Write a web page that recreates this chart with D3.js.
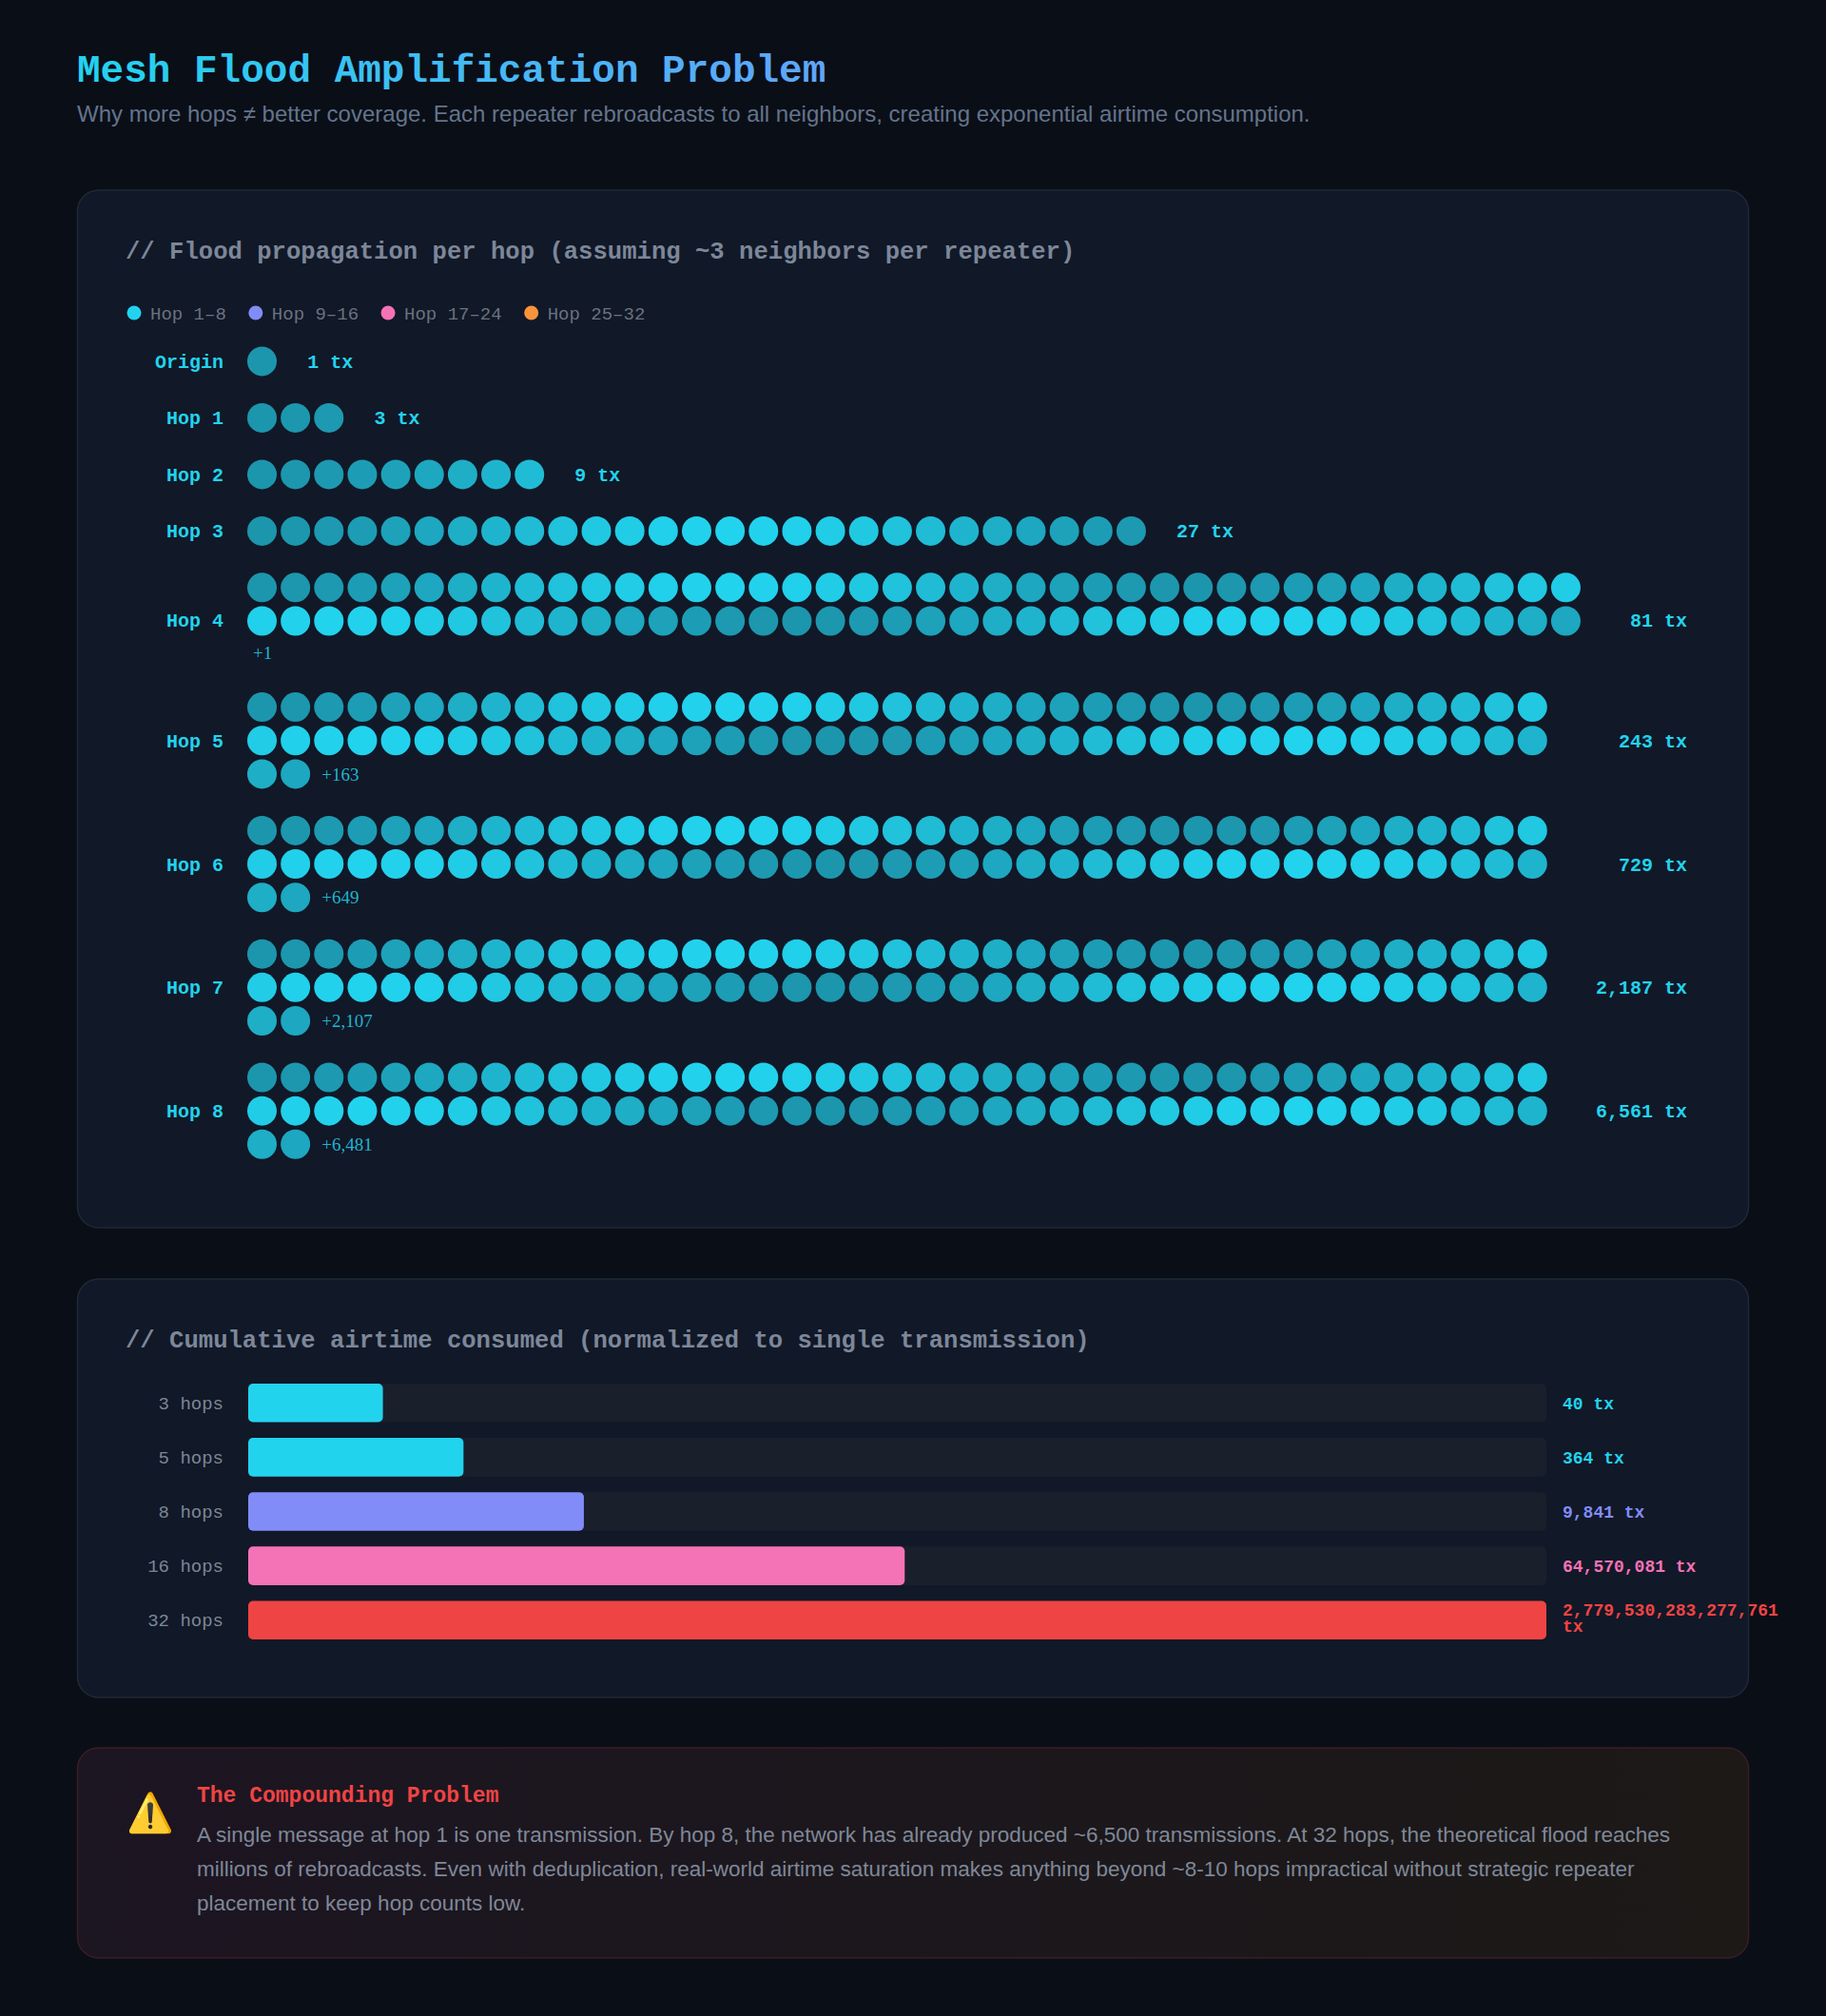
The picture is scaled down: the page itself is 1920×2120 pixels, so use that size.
<!DOCTYPE html>
<html>
<head>
<meta charset="utf-8">
<script src="https://cdn.jsdelivr.net/npm/d3@7"></script>
<style>
  body { margin: 0; background: #0a0e17; }
  svg { display: block; }
</style>
</head>
<body>
<svg id="chart" width="1920" height="2120"></svg>
<script>
// flood rows
var hopLabels = ["Origin", "Hop 1", "Hop 2", "Hop 3", "Hop 4", "Hop 5", "Hop 6", "Hop 7", "Hop 8"];
var hopCounts = [1, 3, 9, 27, 81, 243, 729, 2187, 6561];
var maxDots = 80;

// legend
var legendLabels = ["Hop 1\u20138", "Hop 9\u201316", "Hop 17\u201324", "Hop 25\u201332"];
var legendColors = ["#22d3ee", "#818cf8", "#f472b6", "#fb923c"];

// cumulative airtime
var cumLabels = ["3 hops", "5 hops", "8 hops", "16 hops", "32 hops"];
var cumValues = [40, 364, 9841, 64570081, 2779530283277761];
var cumText = ["40", "364", "9,841", "64,570,081", "2,779,530,283,277,761"];
var cumColors = ["#22d3ee", "#22d3ee", "#818cf8", "#f472b6", "#ef4444"];

var noteLines = [
  "A single message at hop 1 is one transmission. By hop 8, the network has already produced ~6,500 transmissions. At 32 hops, the theoretical flood reaches",
  "millions of rebroadcasts. Even with deduplication, real-world airtime saturation makes anything beyond ~8-10 hops impractical without strategic repeater",
  "placement to keep hop counts low."
];

var mono = "'Liberation Mono', 'DejaVu Sans Mono', monospace";
var sans = "'Liberation Sans', Arial, sans-serif";

var svg = d3.select("#chart");
var defs = svg.append("defs");

var tg = defs.append("linearGradient").attr("id", "titleGrad");
tg.append("stop").attr("offset", "0%").attr("stop-color", "#22d3ee");
tg.append("stop").attr("offset", "100%").attr("stop-color", "#60a5fa");

var wg = defs.append("linearGradient").attr("id", "warnGrad");
wg.append("stop").attr("offset", "0%").attr("stop-color", "#1c1522");
wg.append("stop").attr("offset", "100%").attr("stop-color", "#1c1917");

svg.append("rect").attr("width", 1920).attr("height", 2120).attr("fill", "#0a0e17");

svg.append("text").attr("x", 81).attr("y", 86)
  .style("font-family", mono).style("font-weight", "bold").style("font-size", "41px")
  .attr("fill", "url(#titleGrad)")
  .text("Mesh Flood Amplification Problem");

svg.append("text").attr("x", 81).attr("y", 128)
  .style("font-family", sans).style("font-size", "24px").attr("fill", "#64748b")
  .text("Why more hops \u2260 better coverage. Each repeater rebroadcasts to all neighbors, creating exponential airtime consumption.");

function card(y, h, fill, stroke) {
  svg.append("rect").attr("x", 81.5).attr("y", y).attr("width", 1757).attr("height", h)
    .attr("rx", 22).attr("fill", fill).attr("stroke", stroke).attr("stroke-width", 1.5);
}

function cardTitle(y, t) {
  svg.append("text").attr("x", 132).attr("y", y)
    .style("font-family", mono).style("font-weight", "bold").style("font-size", "25.6px")
    .attr("fill", "#7c8799").text(t);
}

/******************** card 1: flood propagation ********************/
card(200, 1091, "#111827", "#1f2937");
cardTitle(272, "// Flood propagation per hop (assuming ~3 neighbors per repeater)");

var legend = svg.append("g");
var lx = 141;
legendLabels.forEach(function (l, i) {
  var g = legend.append("g").attr("transform", "translate(" + lx + ",329)");
  g.append("circle").attr("r", 7.5).attr("fill", legendColors[i]);
  var t = g.append("text").attr("x", 17).attr("dy", "0.35em")
    .style("font-family", mono).style("font-size", "19px").attr("fill", "#6b7280").text(l);
  lx += 17 + t.node().getComputedTextLength() + 31;
});

var S = 1.352;
var dotLeft = 260, pitch = 26 * S, rad = 15.5, rightEdge = 1774;
var fmt = d3.format(",");
var opac = d3.scaleLinear().domain([-1, 1]).range([1, 0.68]);

var y = 281 * S;
var rows = svg.append("g");
hopCounts.forEach(function (n, h) {
  var g = rows.append("g");
  var countTxt = g.append("text")
    .style("font-family", mono).style("font-weight", "bold").style("font-size", "20px")
    .attr("fill", "#22d3ee").attr("dy", "0.35em").text(fmt(n) + " tx");
  var cw = countTxt.node().getComputedTextLength();
  var avail = rightEdge - cw - 46 - dotLeft;
  var cols = Math.floor((avail + 4) / pitch);
  var shown = Math.min(n, maxDots);
  var dots = d3.range(shown);
  var lines = Math.ceil(shown / cols);
  var extra = n - shown;
  var lastCount = shown - (lines - 1) * cols;
  var extraOwnLine = extra > 0 && lastCount >= cols;
  var lineY = function (r) { return y + r * pitch; };

  g.selectAll("circle").data(dots).enter().append("circle")
    .attr("cx", function (i) { return dotLeft + rad + (i % cols) * pitch; })
    .attr("cy", function (i) { return lineY(Math.floor(i / cols)); })
    .attr("r", rad)
    .attr("fill", "#22d3ee")
    .attr("fill-opacity", function (i) { return opac(Math.cos(2 * Math.PI * i / 28)); });

  var bottom = lineY(lines - 1);
  if (extra > 0) {
    var ex, ey;
    if (extraOwnLine) { ex = dotLeft + 6; ey = bottom + 25 * S; bottom = ey; }
    else { ex = dotLeft + lastCount * pitch + 8; ey = bottom; }
    g.append("text").attr("x", ex).attr("y", ey).attr("dy", "0.35em")
      .style("font-family", "'Liberation Serif', 'DejaVu Serif', serif").style("font-size", "19px")
      .attr("fill", "#22d3ee").attr("fill-opacity", 0.85).text("+" + fmt(extra));
  }
  var midY = (y + bottom) / 2;

  g.append("text").attr("x", 235).attr("y", midY).attr("dy", "0.35em").attr("text-anchor", "end")
    .style("font-family", mono).style("font-weight", "bold").style("font-size", "20px")
    .attr("fill", "#22d3ee").text(hopLabels[h]);

  if (lines > 1) countTxt.attr("x", rightEdge).attr("text-anchor", "end");
  else countTxt.attr("x", dotLeft + shown * pitch - 4 + 32);
  countTxt.attr("y", midY);

  y = bottom + (extraOwnLine ? 42 : 44) * S;
});

/******************** card 2: cumulative airtime ********************/
card(1345, 440, "#111827", "#1f2937");
cardTitle(1417, "// Cumulative airtime consumed (normalized to single transmission)");

var x = d3.scaleLog().domain([1, d3.max(cumValues)]).range([261, 1626]);
var yb = d3.scaleBand().domain(cumLabels).range([1455, 1724]).paddingInner(0.29);

var bars = svg.append("g");
cumLabels.forEach(function (l, i) {
  var by = yb(l), bh = yb.bandwidth(), cy = by + bh / 2;
  bars.append("rect").attr("x", 261).attr("y", by).attr("width", 1626 - 261).attr("height", bh)
    .attr("rx", 5).attr("fill", "#1a1f2c");
  bars.append("rect").attr("x", 261).attr("y", by).attr("width", x(cumValues[i]) - 261).attr("height", bh)
    .attr("rx", 5).attr("fill", cumColors[i]);
  bars.append("text").attr("x", 235).attr("y", cy).attr("dy", "0.35em").attr("text-anchor", "end")
    .style("font-family", mono).style("font-size", "19px").attr("fill", "#7c8799").text(l);
  var t = bars.append("text").attr("x", 1643).attr("y", cy)
    .style("font-family", mono).style("font-weight", "bold").style("font-size", "18px")
    .attr("fill", cumColors[i]);
  var full = cumText[i] + " tx";
  if (full.length > 20) {
    t.append("tspan").attr("x", 1643).attr("dy", "-0.25em").text(cumText[i]);
    t.append("tspan").attr("x", 1643).attr("dy", "0.95em").text("tx");
  } else {
    t.attr("dy", "0.35em").text(full);
  }
});

/******************** card 3: warning ********************/
card(1838, 221, "url(#warnGrad)", "#3b1d24");
svg.append("text").attr("x", 133).attr("y", 1920)
  .style("font-size", "40px").style("font-family", "'Noto Color Emoji', 'DejaVu Sans', sans-serif")
  .text("\u26A0\uFE0F");
svg.append("text").attr("x", 207).attr("y", 1895)
  .style("font-family", mono).style("font-weight", "bold").style("font-size", "23px")
  .attr("fill", "#ef4444").text("The Compounding Problem");
svg.append("g").selectAll("text").data(noteLines).enter().append("text")
  .attr("x", 207).attr("y", function (d, i) { return 1937 + i * 36; })
  .style("font-family", sans).style("font-size", "22.5px").attr("fill", "#7f8898")
  .text(function (d) { return d; });
</script>
</body>
</html>
